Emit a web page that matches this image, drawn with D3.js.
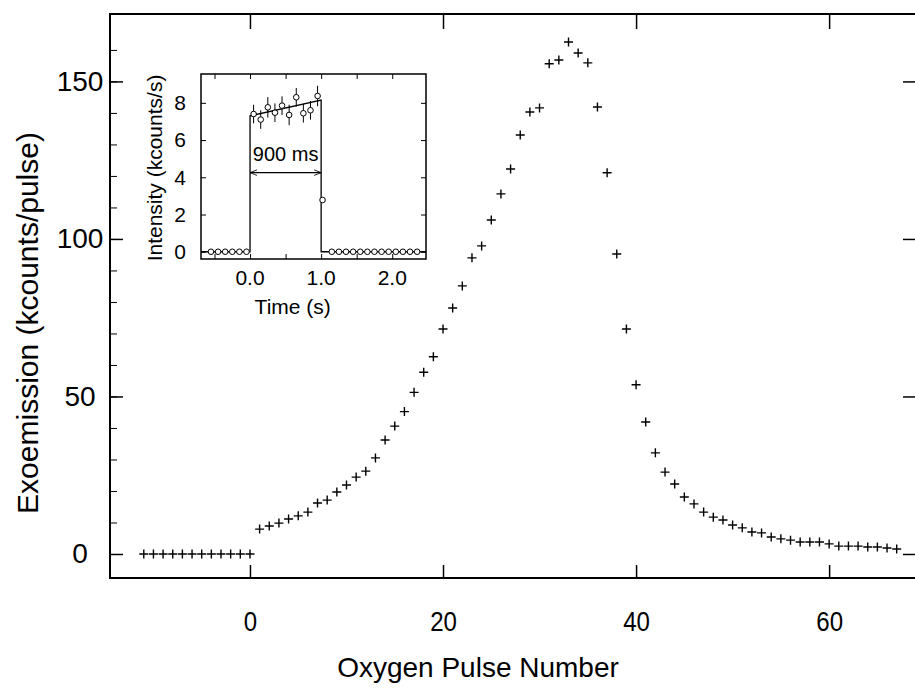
<!DOCTYPE html>
<script src="https://d3js.org/d3.v7.min.js"></script>
<style>
body { margin: 0; background: #fff; }
text { font-family: "Liberation Sans", Arial, Helvetica, sans-serif; fill: #000; }
</style>
<body>
<script>
// Main series: exoemission per oxygen pulse.
let pulseNumbers = d3.range(-11, 68);
let exoValues = [
  0, 0, 0, 0, 0, 0, 0, 0, 0, 0, 0, 0,
  7.9, 8.9, 9.8, 11.1, 12.1, 13.3, 16.2, 17.1, 19.7, 21.9,
  24.4, 26.3, 30.5, 36.2, 40.6, 45.2, 51.3, 57.7, 62.6, 71.4,
  78.1, 85.1, 94.0, 97.8, 106.0, 114.3, 122.2, 133.0, 140.3, 141.6,
  155.6, 156.8, 162.5, 159.0, 155.9, 141.9, 121.0, 95.2, 71.4, 53.7,
  41.9, 32.1, 26.0, 22.2, 18.1, 15.9, 13.3, 11.7, 10.8, 9.2,
  8.3, 7.0, 6.7, 5.4, 4.8, 4.4, 3.8, 3.8, 3.8, 3.2,
  2.5, 2.5, 2.5, 2.2, 2.2, 1.9, 1.6
];
let xTicks = [0, 20, 40, 60];
let yTicks = [0, 50, 100, 150];
let yMinorTicks = d3.range(0, 170, 10);

// Inset: single pulse intensity vs time.
let insetTimes = [-0.55, -0.45, -0.35, -0.25, -0.15, -0.05,
  0.05, 0.15, 0.25, 0.35, 0.45, 0.55, 0.65, 0.75, 0.85, 0.95,
  1.02,
  1.15, 1.25, 1.35, 1.45, 1.55, 1.65, 1.75, 1.85, 1.95, 2.05, 2.15, 2.25, 2.35];
let insetValues = [0, 0, 0, 0, 0, 0,
  7.4, 7.1, 7.76, 7.47, 7.85, 7.35, 8.3, 7.44, 7.6, 8.37,
  2.78,
  0, 0, 0, 0, 0, 0, 0, 0, 0, 0, 0, 0, 0];
let insetErrors = [0, 0, 0, 0, 0, 0,
  0.5, 0.5, 0.55, 0.5, 0.5, 0.55, 0.5, 0.5, 0.5, 0.55,
  0,
  0, 0, 0, 0, 0, 0, 0, 0, 0, 0, 0, 0, 0];
// Step model: baseline, fitted linear rise during the 900 ms pulse, baseline.
let stepTimes = [-0.69, 0, 0, 1.0, 1.0, 2.475];
let stepValues = [0, 0, 7.3, 8.15, 0, 0];
let insetXTicks = [-0.5, 0, 0.5, 1.0, 1.5, 2.0];
let insetXLabels = [0, 1, 2];
let insetYTicks = [0, 2, 4, 6, 8];

let svg = d3.select("body").append("svg")
    .attr("width", 915)
    .attr("height", 692);

// Main frame geometry.
let pLeft = 110, pRight = 916, pTop = 14, pBottom = 578;

let x = d3.scaleLinear().domain([-14.5, 69.0]).range([pLeft, pRight]);
let y = d3.scaleLinear().domain([-7.62, 171.4]).range([pBottom, pTop]);

// Frame.
svg.append("rect")
    .attr("x", pLeft).attr("y", pTop)
    .attr("width", pRight - pLeft).attr("height", pBottom - pTop)
    .attr("fill", "none").attr("stroke", "#000").attr("stroke-width", 2);

// Bottom axis with inward ticks.
let xAxis = svg.append("g")
    .attr("transform", "translate(0," + pBottom + ")")
    .call(d3.axisBottom(x).tickValues(xTicks).tickSizeInner(-13).tickSizeOuter(0).tickPadding(33));
xAxis.select(".domain").remove();
xAxis.selectAll("line").attr("stroke-width", 1.5);
// slightly narrow, tall digits as in the scanned figure
xAxis.selectAll("text").attr("font-size", 28).attr("font-family", null)
    .attr("transform", "scale(0.86,1)");

// Top ticks.
svg.append("g")
    .attr("transform", "translate(0," + pTop + ")")
    .call(d3.axisTop(x).tickValues(xTicks).tickSizeInner(-15).tickSizeOuter(0).tickFormat(""))
    .call(g => g.select(".domain").remove())
    .selectAll("line").attr("stroke-width", 1.5);

// Left axis: major and minor ticks, inward. Labels centred in the margin.
let yAxis = svg.append("g")
    .attr("transform", "translate(" + pLeft + ",0)")
    .call(d3.axisLeft(y).tickValues(yTicks).tickSizeInner(-13).tickSizeOuter(0).tickPadding(30));
yAxis.select(".domain").remove();
yAxis.selectAll("line").attr("stroke-width", 1.5);
yAxis.selectAll("text").attr("font-size", 28).attr("font-family", null)
    .attr("text-anchor", "middle");

svg.append("g")
    .attr("transform", "translate(" + pLeft + ",0)")
    .call(d3.axisLeft(y).tickValues(yMinorTicks).tickSizeInner(-7).tickSizeOuter(0).tickFormat(""))
    .call(g => g.select(".domain").remove());

// Right side ticks.
svg.append("g")
    .attr("transform", "translate(" + pRight + ",0)")
    .call(d3.axisRight(y).tickValues(yTicks).tickSizeInner(-13).tickSizeOuter(0).tickFormat(""))
    .call(g => g.select(".domain").remove())
    .selectAll("line").attr("stroke-width", 1.5);

// Data as plus markers.
svg.append("g").selectAll("path")
    .data(pulseNumbers)
    .join("path")
    .attr("transform", (d, i) => "translate(" + x(d) + "," + y(exoValues[i]) + ")")
    .attr("d", "M-4.5,0H4.5M0,-4.5V4.5")
    .attr("stroke", "#000")
    .attr("stroke-width", 1.4);

// Axis titles.
svg.append("text")
    .attr("x", 478).attr("y", 677)
    .attr("text-anchor", "middle")
    .attr("font-size", 28)
    .text("Oxygen Pulse Number");

svg.append("text")
    .attr("transform", "translate(38,323) rotate(-90)")
    .attr("text-anchor", "middle")
    .attr("font-size", 30)
    .text("Exoemission (kcounts/pulse)");

// ---- Inset ----
let iLeft = 201, iRight = 426, iTop = 74, iBottom = 259;
let ix = d3.scaleLinear().domain([-0.69, 2.475]).range([iLeft, iRight]);
let iy = d3.scaleLinear().domain([-0.39, 9.55]).range([iBottom, iTop]);

let inset = svg.append("g");

inset.append("rect")
    .attr("x", iLeft).attr("y", iTop)
    .attr("width", iRight - iLeft).attr("height", iBottom - iTop)
    .attr("fill", "#fff").attr("stroke", "#000").attr("stroke-width", 1.5);

// Inset ticks (inward on all sides).
inset.append("g")
    .attr("transform", "translate(0," + iBottom + ")")
    .call(d3.axisBottom(ix).tickValues(insetXTicks).tickSizeInner(-5).tickSizeOuter(0).tickFormat(""))
    .call(g => g.select(".domain").remove());
inset.append("g")
    .attr("transform", "translate(0," + iTop + ")")
    .call(d3.axisTop(ix).tickValues(insetXTicks).tickSizeInner(-5).tickSizeOuter(0).tickFormat(""))
    .call(g => g.select(".domain").remove());
inset.append("g")
    .attr("transform", "translate(" + iLeft + ",0)")
    .call(d3.axisLeft(iy).tickValues(insetYTicks).tickSizeInner(-5).tickSizeOuter(0).tickFormat(""))
    .call(g => g.select(".domain").remove());
inset.append("g")
    .attr("transform", "translate(" + iRight + ",0)")
    .call(d3.axisRight(iy).tickValues(insetYTicks).tickSizeInner(-5).tickSizeOuter(0).tickFormat(""))
    .call(g => g.select(".domain").remove());

// Inset tick labels.
inset.selectAll(".ixl")
    .data(insetXLabels)
    .join("text")
    .attr("x", d => ix(d))
    .attr("y", 285)
    .attr("text-anchor", "middle")
    .attr("font-size", 21)
    .text(d => d3.format(".1f")(d));

inset.selectAll(".iyl")
    .data(insetYTicks)
    .join("text")
    .attr("x", 180)
    .attr("y", d => iy(d))
    .attr("dy", "0.35em")
    .attr("text-anchor", "middle")
    .attr("font-size", 21)
    .text(d => d);

// Step model line.
let stepLine = d3.line()
    .x((d, i) => ix(stepTimes[i]))
    .y((d, i) => iy(stepValues[i]));
inset.append("path")
    .attr("d", stepLine(stepTimes))
    .attr("fill", "none")
    .attr("stroke", "#000")
    .attr("stroke-width", 1.3);

// Error bars (only the points measured during the pulse carry them).
let errIdx = d3.range(insetTimes.length).filter(i => insetErrors[i] > 0);
inset.append("g").selectAll("line")
    .data(errIdx)
    .join("line")
    .attr("x1", i => ix(insetTimes[i]))
    .attr("x2", i => ix(insetTimes[i]))
    .attr("y1", i => iy(insetValues[i] - insetErrors[i]))
    .attr("y2", i => iy(insetValues[i] + insetErrors[i]))
    .attr("stroke", "#000")
    .attr("stroke-width", 1);

// Open circle markers.
inset.append("g").selectAll("circle")
    .data(insetTimes)
    .join("circle")
    .attr("cx", d => ix(d))
    .attr("cy", (d, i) => iy(insetValues[i]))
    .attr("r", 2.8)
    .attr("fill", "#fff")
    .attr("stroke", "#000")
    .attr("stroke-width", 1);

// 900 ms double arrow.
let defs = svg.append("defs");
defs.append("marker")
    .attr("id", "arrowEnd")
    .attr("viewBox", "0 0 10 10")
    .attr("refX", 10).attr("refY", 5)
    .attr("markerWidth", 7).attr("markerHeight", 7)
    .attr("markerUnits", "userSpaceOnUse")
    .attr("orient", "auto-start-reverse")
    .append("path")
    .attr("d", "M0,1L10,5L0,9")
    .attr("fill", "none")
    .attr("stroke", "#000")
    .attr("stroke-width", 1.2);

inset.append("line")
    .attr("x1", ix(0)).attr("x2", ix(1.0))
    .attr("y1", iy(4.25)).attr("y2", iy(4.25))
    .attr("stroke", "#000")
    .attr("stroke-width", 1.2)
    .attr("marker-start", "url(#arrowEnd)")
    .attr("marker-end", "url(#arrowEnd)");

inset.append("text")
    .attr("x", ix(0.5))
    .attr("y", iy(4.85))
    .attr("text-anchor", "middle")
    .attr("font-size", 20)
    .text("900 ms");

// Inset axis titles.
inset.append("text")
    .attr("x", ix(0.6))
    .attr("y", 314)
    .attr("text-anchor", "middle")
    .attr("font-size", 21)
    .text("Time (s)");

inset.append("text")
    .attr("transform", "translate(162,168) rotate(-90)")
    .attr("text-anchor", "middle")
    .attr("font-size", 21)
    .text("Intensity (kcounts/s)");
</script>
</body>
</html>
